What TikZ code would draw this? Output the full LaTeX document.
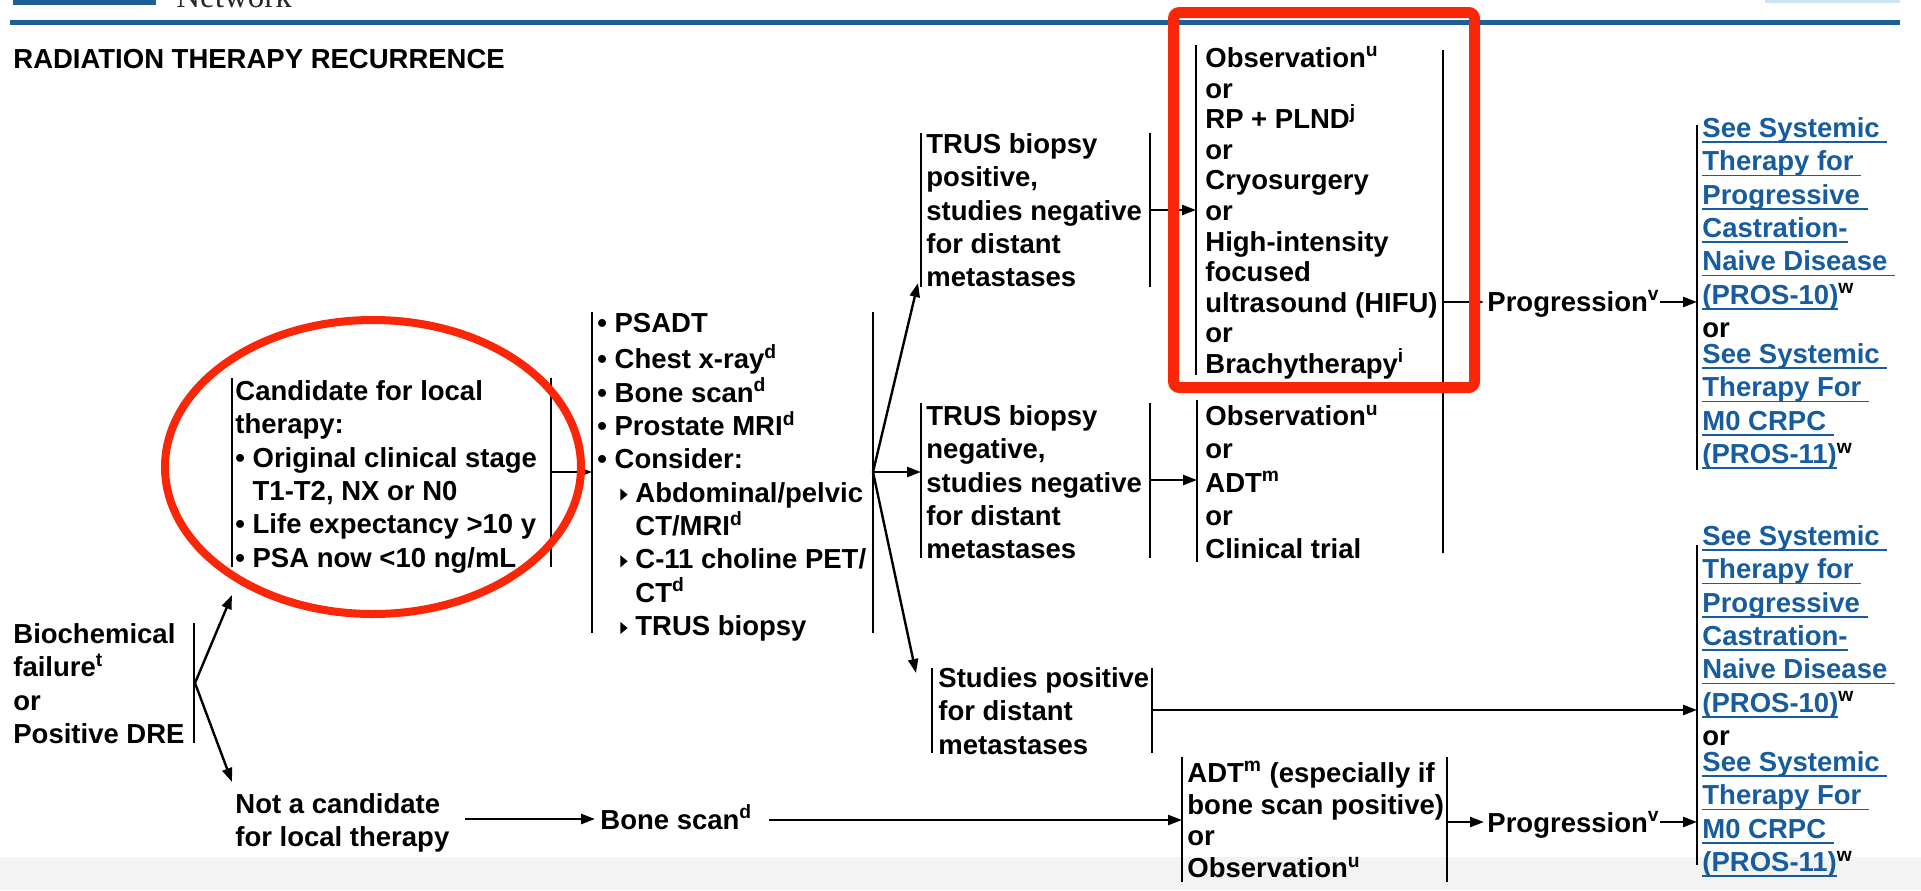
\documentclass[tikz,border=0pt]{standalone}
\usepackage{fontspec}
\setmainfont{Liberation Sans}
\newfontfamily\serifnet{Liberation Serif}
\usetikzlibrary{arrows.meta}
\definecolor{nccnblue}{RGB}{29,94,150}
\definecolor{linkblue}{RGB}{22,92,158}
\definecolor{markred}{RGB}{250,38,8}
\definecolor{bandgrey}{RGB}{243,243,243}
\definecolor{lightblue}{RGB}{205,228,242}
\definecolor{netgrey}{RGB}{40,40,40}
\newcommand\supx[1]{\textsuperscript{#1}}
\newcommand\fsbody{\fontsize{13.75pt}{16.67pt}\selectfont\bfseries}
\newcommand\fsobs{\fontsize{13.75pt}{15.3pt}\selectfont\bfseries}
\newcommand\fsadt{\fontsize{13.75pt}{15.85pt}\selectfont\bfseries}
\newcommand\tri{\tikz[baseline=0pt,x=1pt,y=1pt]{\fill (0,0.8) -- (0,6.8) -- (3.6,3.8) -- cycle;}}
\newsavebox\lnkbox
\newcommand\lnk[1]{\leavevmode\sbox\lnkbox{\color{linkblue}#1}\rlap{\color{linkblue}\rule[-2.8pt]{\wd\lnkbox}{0.9pt}}\usebox\lnkbox}
\tikzset{
  txt/.style={inner sep=0pt, anchor=north west, align=left, font=\fsbody},
  one/.style={inner sep=0pt, anchor=base west, font=\fsbody},
  bar/.style={line width=1.3pt},
  arr/.style={line width=1.2pt, -{Triangle[length=7pt,width=5pt]}},
  redmark/.style={draw=markred}
}
\begin{document}
\begin{tikzpicture}[x=0.5pt,y=-0.5pt]
\useasboundingbox (0,0) rectangle (1921,890);
% background and header
\fill[white] (0,0) rectangle (1921,890);
\fill[bandgrey] (0,857) rectangle (1921,890);
\fill[nccnblue] (13,0) rectangle (156,5);
\fill[lightblue] (1765,0) rectangle (1900,2.5);
\draw[nccnblue, line width=2.5pt] (10,22.5) -- (1900,22.5);
\node[inner sep=0pt, anchor=base west, font=\serifnet\fontsize{16.5pt}{18pt}\selectfont, text=netgrey] (net) at (176,7) {Network};
\node[one] (title) at (13,68) {RADIATION THERAPY RECURRENCE};

% text blocks
\node[txt] (bio) at (13,619.7) {\strut Biochemical\\failure\supx{t}\\or\\Positive DRE};
\node[txt] (cand) at (235,376.7) {\strut Candidate for local\\therapy:\\• Original clinical stage\\\phantom{•\ }T1-T2, NX or N0\\• Life expectancy >10 y\\• PSA now <10 ng/mL};
\node[txt] (inv) at (597,308.7) {\strut • PSADT\\• Chest x-ray\supx{d}\\• Bone scan\supx{d}\\• Prostate MRI\supx{d}\\• Consider:\\\hspace*{11.5pt}\tri\hspace*{3.9pt}Abdominal/pelvic\\\hspace*{19pt}CT/MRI\supx{d}\\\hspace*{11.5pt}\tri\hspace*{3.9pt}C-11 choline PET/\\\hspace*{19pt}CT\supx{d}\\\hspace*{11.5pt}\tri\hspace*{3.9pt}TRUS biopsy};
\node[txt] (pos) at (926,129.7) {\strut TRUS biopsy\\positive,\\studies negative\\for distant\\metastases};
\node[txt] (neg) at (926,401.7) {\strut TRUS biopsy\\negative,\\studies negative\\for distant\\metastases};
\node[txt] (spos) at (938,663.7) {\strut Studies positive\\for distant\\metastases};
\node[txt, font=\fsobs] (obs1) at (1205,45.6) {\strut Observation\supx{u}\\or\\RP + PLND\supx{j}\\or\\Cryosurgery\\or\\High-intensity\\focused\\ultrasound (HIFU)\\or\\Brachytherapy\supx{i}};
\node[txt] (obs2) at (1205,401.7) {\strut Observation\supx{u}\\or\\ADT\supx{m}\\or\\Clinical trial};
\node[txt] (lnk1) at (1702,113.7) {\strut\lnk{See Systemic\ }\\\lnk{Therapy for\ }\\\lnk{Progressive\ }\\\lnk{Castration-}\\\lnk{Naive Disease\ }\\\lnk{(PROS-10)}\supx{w}\\or\\[-3.65pt]\lnk{See Systemic\ }\\\lnk{Therapy For\ }\\\lnk{M0 CRPC\ }\\\lnk{(PROS-11)}\supx{w}};
\node[txt] (lnk2) at (1702,521.7) {\strut\lnk{See Systemic\ }\\\lnk{Therapy for\ }\\\lnk{Progressive\ }\\\lnk{Castration-}\\\lnk{Naive Disease\ }\\\lnk{(PROS-10)}\supx{w}\\or\\[-3.65pt]\lnk{See Systemic\ }\\\lnk{Therapy For\ }\\\lnk{M0 CRPC\ }\\\lnk{(PROS-11)}\supx{w}};
\node[txt] (notc) at (235,789.7) {\strut Not a candidate\\for local therapy};
\node[one] (bone) at (600,829) {Bone scan\supx{d}};
\node[txt, font=\fsadt] (adt) at (1187,759.8) {\strut ADT\supx{m} (especially if\\bone scan positive)\\or\\Observation\supx{u}};
\node[one] (prog1) at (1487,311) {Progression\supx{v}};
\node[one] (prog2) at (1487,832) {Progression\supx{v}};

% bars
\draw[bar] (194,623) -- (194,743);
\draw[bar] (232,378) -- (232,567);
\draw[bar] (551,378) -- (551,567);
\draw[bar] (592,312) -- (592,633);
\draw[bar] (873,312) -- (873,633);
\draw[bar] (921,133) -- (921,287);
\draw[bar] (1150,133) -- (1150,287);
\draw[bar] (921,403) -- (921,558);
\draw[bar] (1150,403) -- (1150,558);
\draw[bar] (932,668) -- (932,753);
\draw[bar] (1152,668) -- (1152,753);
\draw[bar] (1196,45) -- (1196,375);
\draw[bar] (1197,400) -- (1197,562);
\draw[bar] (1443,50) -- (1443,553);
\draw[bar] (1182,757) -- (1182,882);
\draw[bar] (1447,757) -- (1447,882);
\draw[bar] (1697,125) -- (1697,470);
\draw[bar] (1697,545) -- (1697,865);

% connector end points on bars
\coordinate (fork1) at (195,683);
\coordinate (candIn) at (232,595);
\coordinate (notcIn) at (232,782);
\coordinate (candOut) at (551,472);
\coordinate (invIn) at (592,472);
\coordinate (fork2) at (873,472);
\coordinate (posIn) at (918,283);
\coordinate (negIn) at (921,472);
\coordinate (sposIn) at (916,673);
\coordinate (posOut) at (1150,210);
\coordinate (obs1In) at (1196,210);
\coordinate (negOut) at (1150,480);
\coordinate (obs2In) at (1197,480);
\coordinate (obsOut) at (1443,302);
\coordinate (lnk1In) at (1697,302);
\coordinate (sposOut) at (1152,710);
\coordinate (lnk2In) at (1697,710);
\coordinate (notcOut) at (465,819);
\coordinate (adtIn) at (1182,820);
\coordinate (adtOut) at (1447,822);
\coordinate (lnk2In2) at (1697,822);

% connectors
\draw[arr] (fork1) -- (candIn);
\draw[arr] (fork1) -- (notcIn);
\draw[arr] (candOut) -- (invIn);
\draw[arr] (fork2) -- (posIn);
\draw[arr] (fork2) -- (negIn);
\draw[arr] (fork2) -- (sposIn);
\draw[arr] (posOut) -- (obs1In);
\draw[arr] (negOut) -- (obs2In);
\draw[arr, shorten >=1.5pt] (obsOut) -- (prog1.west |- obsOut);
\draw[arr] (prog1.east |- obsOut) -- (lnk1In);
\draw[arr] (sposOut) -- (lnk2In);
\draw[arr, shorten >=2.5pt] (notcOut) -- (bone.west |- notcOut);
\draw[arr] ([xshift=8pt]bone.east |- adtIn) -- (adtIn);
\draw[arr, shorten >=1.5pt] (adtOut) -- (prog2.west |- adtOut);
\draw[arr] (prog2.east |- adtOut) -- (lnk2In2);

% red annotations
\draw[redmark, line width=4pt] (373,467) ellipse [x radius=104pt, y radius=73.5pt];
\draw[redmark, line width=5.5pt, rounded corners=3pt] (1173.5,12.5) rectangle (1474.5,387.5);
\end{tikzpicture}
\end{document}
